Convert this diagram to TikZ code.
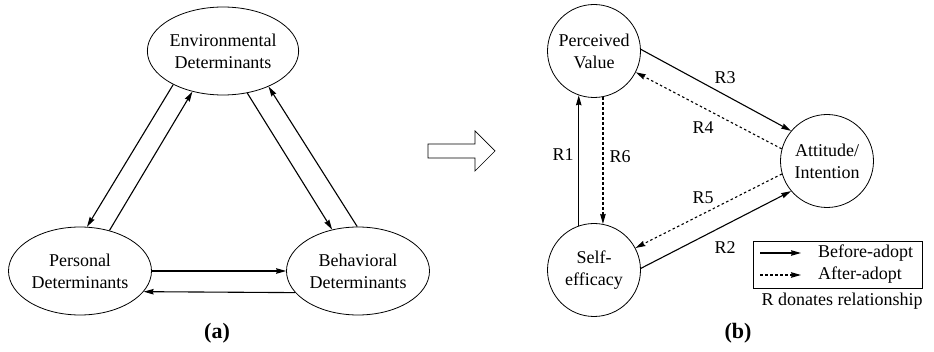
\documentclass[tikz,border=0pt]{standalone}
\usepackage{fontspec}
\setmainfont{Liberation Serif}
\newfontfamily\tnrfont{Liberation Serif}
\usetikzlibrary{shapes.geometric,arrows.meta}
\begin{document}
\begin{tikzpicture}[x=1pt,y=-1pt,
  txt/.style={font=\tnrfont\fontsize{18}{22}\selectfont},
  ell/.style={ellipse,draw,line width=0.8pt,minimum width=143pt,minimum height=88pt,inner sep=0pt,align=center,txt},
  circ/.style={circle,draw,line width=0.8pt,minimum size=93pt,inner sep=0pt,align=center,txt},
  arr/.style={line width=1.1pt,-{Stealth[length=10pt,width=5.5pt,inset=1pt]}},
  darr/.style={arr,dash pattern=on 2.5pt off 2.5pt},
  lab/.style={txt,inner sep=0pt},
  captxt/.style={font=\tnrfont\fontsize{22}{26}\selectfont\bfseries,inner sep=0pt}]
\useasboundingbox (0,0) rectangle (934,352);
% panel (a)
\node[ell] (env) at (223,51) {Environmental\\Determinants};
\node[ell] (per) at (80,271) {Personal\\Determinants};
\node[ell] (beh) at (358,271) {Behavioral\\Determinants};
\draw[arr] (env.214) -- (per.81);
\draw[arr] (per.54.5) -- (env.233.6);
\draw[arr] (env.-60.8) -- (beh.122.7);
\draw[arr] (beh.91.3) -- (env.-38.8);
\draw[arr] (per.0) -- (beh.180);
\draw[arr] (beh.199.7) -- (per.-18.7);
\node[captxt] (capa) at (217,333) {(a)};
% hollow arrow
\draw[line width=0.7pt,fill=white] (428,144) -- (475,144) -- (475,131) -- (495,151) -- (475,171) -- (475,158) -- (428,158) -- cycle;
% panel (b)
\node[circ] (pv) at (594,51) {Perceived\\Value};
\node[circ] (se) at (594,270) {Self-\\efficacy};
\node[circ] (at) at (827,161) {Attitude/\\Intention};
\draw[arr] (se.109) -- (pv.-109);
\draw[darr] (pv.-79) -- (se.79);
\draw[arr] (pv.2) -- (at.140);
\draw[darr] (at.165) -- (pv.-27);
\draw[darr] (at.196) -- (se.28);
\draw[arr] (se.2) -- (at.220);
\node[lab] (r1) at (563,155) {R1};
\node[lab] (r6) at (620,157) {R6};
\node[lab] (r3) at (725,78) {R3};
\node[lab] (r4) at (703,128) {R4};
\node[lab] (r5) at (703,198) {R5};
\node[lab] (r2) at (725,248) {R2};
% legend
\node[draw,line width=0.8pt,minimum width=169pt,minimum height=47pt,inner sep=0pt] (leg) at (837.5,264.5) {};
\coordinate (b1) at (760,253);
\coordinate (b2) at (801,253);
\coordinate (a1) at (760,275);
\coordinate (a2) at (801,275);
\draw[arr] (b1) -- (b2);
\draw[darr] (a1) -- (a2);
\node[lab,anchor=west] (tb) at (818,253) {Before-adopt};
\node[lab,anchor=west] (ta) at (818,275) {After-adopt};
\node[lab] (rd) at (842,301) {R donates relationship};
\node[captxt] (capb) at (738,333) {(b)};
\end{tikzpicture}
\end{document}
